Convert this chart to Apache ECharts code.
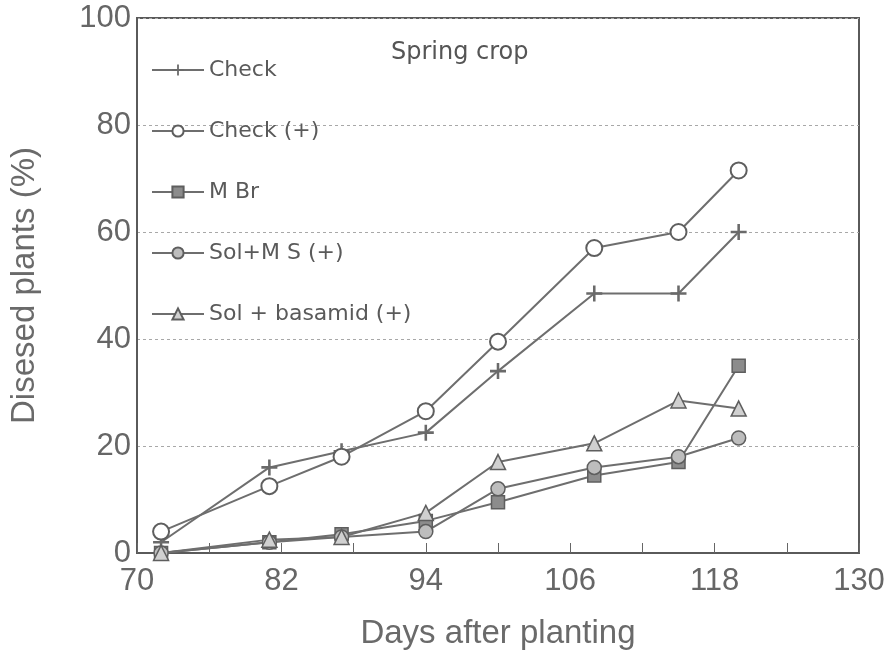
<!DOCTYPE html>
<html>
<head>
<meta charset="utf-8">
<script src="https://cdn.jsdelivr.net/npm/echarts@6/dist/echarts.min.js"></script>
<style>
  html, body { margin: 0; padding: 0; background: #fff; }
  #chart { width: 889px; height: 653px; }
</style>
</head>
<body>
<div id="chart"></div>
<script>
// Days after planting at which disease incidence was scored
var days = [72, 81, 87, 94, 100, 108, 115, 120];

// Diseased plants (%) per treatment
var check        = [2, 16, 19, 22.5, 34, 48.5, 48.5, 60];
var checkPlus    = [4, 12.5, 18, 26.5, 39.5, 57, 60, 71.5];
var mbr          = [0, 2, 3.5, 6, 9.5, 14.5, 17, 35];
var solMs        = [0, 2, 3, 4, 12, 16, 18, 21.5];
var solBasamid   = [0, 2.5, 3, 7.5, 17, 20.5, 28.5, 27];

var seriesNames = ['Check', 'Check (+)', 'M Br', 'Sol+M S (+)', 'Sol + basamid (+)'];
var xTicks = [70, 82, 94, 106, 118, 130];
var yTicks = [0, 20, 40, 60, 80, 100];

function pairs(vals) {
  return days.map(function (d, i) { return [d, vals[i]]; });
}

var axisFont = '"Liberation Sans", Arial, sans-serif';
var wide = '"DejaVu Sans", "Liberation Sans", sans-serif';
var lineColor = '#6e6e6e';
var plusPath = 'path://M4.2,0H5.8V4.2H10V5.8H5.8V10H4.2V5.8H0V4.2H4.2Z';

function mkSeries(name, vals, symbol, size, fill, bw) {
  return {
    name: name,
    type: 'line',
    data: pairs(vals),
    symbol: symbol,
    symbolSize: size,
    showAllSymbol: true,
    lineStyle: { color: lineColor, width: 2 },
    itemStyle: { color: fill, borderColor: '#5e5e5e', borderWidth: bw },
    emphasis: { disabled: true },
    animation: false
  };
}

var chart = echarts.init(document.getElementById('chart'));
chart.setOption({
  backgroundColor: '#ffffff',
  title: {
    text: 'Spring crop',
    left: 386, top: 36,
    textStyle: { fontFamily: wide, fontSize: 24, fontWeight: 'normal', color: '#555' }
  },
  legend: {
    orient: 'vertical',
    left: 146, top: 54,
    itemWidth: 52, itemHeight: 14,
    itemGap: 39,
    data: seriesNames,
    textStyle: { fontFamily: wide, fontSize: 22, color: '#5a5a5a' },
    selectedMode: false
  },
  grid: {
    left: 137, right: 30, top: 18, bottom: 100,
    outerBoundsMode: 'none',
    show: true, borderColor: '#5a5a5a', borderWidth: 2, backgroundColor: 'transparent'
  },
  xAxis: {
    type: 'value',
    min: xTicks[0], max: xTicks[xTicks.length - 1], interval: 12,
    name: 'Days after planting',
    nameLocation: 'middle', nameGap: 64,
    nameTextStyle: { fontFamily: axisFont, fontSize: 33, color: '#6a6a6a' },
    axisLine: { show: true, lineStyle: { color: '#5a5a5a', width: 2 } },
    axisTick: { show: true, inside: true, length: 10, lineStyle: { color: '#666' } },
    minorTick: { show: true, splitNumber: 2, length: 10, lineStyle: { color: '#666' } },
    axisLabel: { fontFamily: axisFont, fontSize: 31, color: '#666', margin: 13 },
    splitLine: { show: false }
  },
  yAxis: {
    type: 'value',
    min: yTicks[0], max: yTicks[yTicks.length - 1], interval: 20,
    name: 'Disesed plants (%)',
    nameLocation: 'middle', nameGap: 96,
    nameTextStyle: { fontFamily: axisFont, fontSize: 33, color: '#6a6a6a' },
    axisLine: { show: true, lineStyle: { color: '#5a5a5a', width: 2 } },
    axisTick: { show: false },
    axisLabel: { fontFamily: axisFont, fontSize: 31, color: '#666', margin: 6 },
    splitLine: { show: true, lineStyle: { color: '#a8a8a8', type: [3, 3], width: 1 } }
  },
  series: [
    mkSeries(seriesNames[0], check, plusPath, 16, '#6a6a6a', 0),
    mkSeries(seriesNames[1], checkPlus, 'circle', 16, '#ffffff', 2),
    mkSeries(seriesNames[2], mbr, 'rect', 13, '#8c8c8c', 1.5),
    mkSeries(seriesNames[3], solMs, 'circle', 14, '#bdbdbd', 1.5),
    mkSeries(seriesNames[4], solBasamid, 'triangle', 15, '#d0d0d0', 1.5)
  ]
});
</script>
</body>
</html>
